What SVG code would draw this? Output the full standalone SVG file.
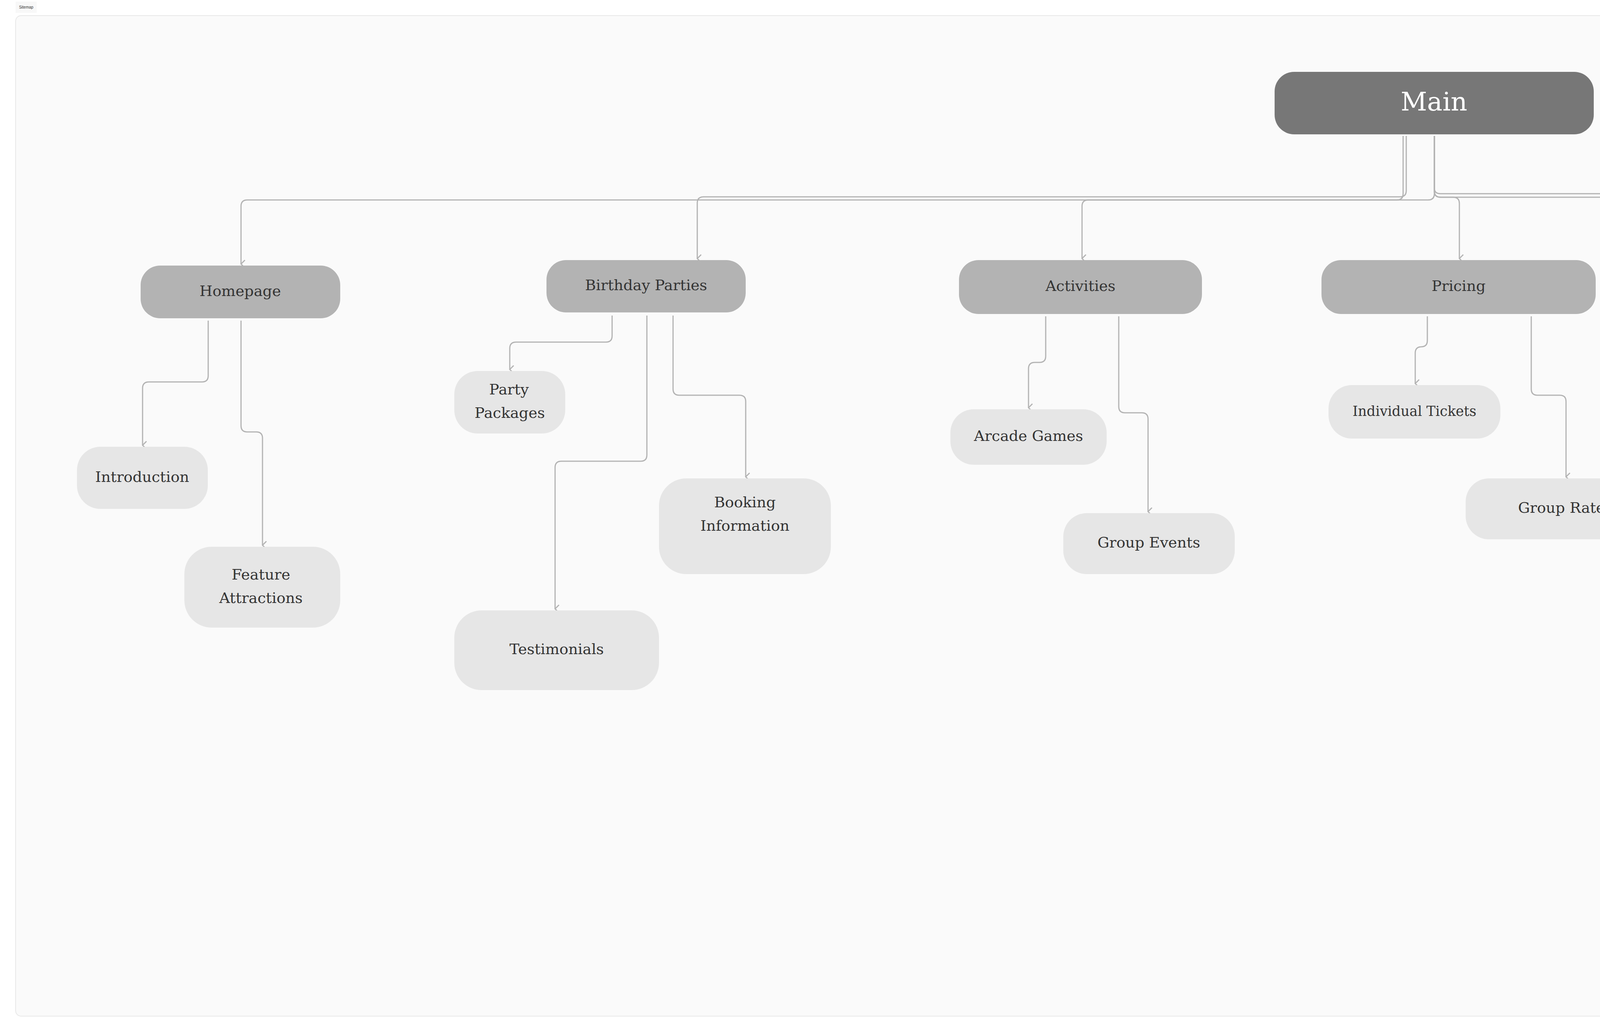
<svg xmlns="http://www.w3.org/2000/svg" width="6960" height="2640" viewBox="0 0 6960 2640">
<defs>
<marker id="ar" viewBox="0 0 24 24" refX="12" refY="22" markerWidth="24" markerHeight="24" markerUnits="userSpaceOnUse" orient="auto-start-reverse"><path d="M2,12 L12,22 L22,12" fill="none" stroke="#b3b3b3" stroke-width="3"/></marker>
<style>
.c{fill:none;stroke:#b3b3b3;stroke-width:3;stroke-linejoin:round;marker-end:url(#ar)}
.p{fill:#b3b3b3}.k{fill:#e6e6e6}
text{font-family:"DejaVu Serif","Liberation Serif",serif;fill:#333;text-anchor:middle;dominant-baseline:middle}
.t{font-size:38px}.m{font-size:66px;fill:#fff}
</style>
</defs>
<rect width="6960" height="2640" fill="#fff"/>
<rect x="40" y="4" width="54" height="29" fill="#f8f8f8"/>
<text x="67" y="19" style="font-family:'Liberation Sans',sans-serif;font-size:10px">Sitemap</text>
<rect x="40" y="40" width="6878" height="2562" rx="14" fill="#fafafa" stroke="#e8e8e8" stroke-width="2"/>
<g id="connectors">
<path class="c" d="M3592,348 V496 q0,16 -16,16 H633 q-16,0 -16,16 V676"/>
<path class="c" d="M3600,348 V488 q0,16 -16,16 H1801 q-16,0 -16,16 V662"/>
<path class="c" d="M3672,348 V496 q0,16 -16,16 H2786 q-16,0 -16,16 V662"/>
<path class="c" d="M3672,348 V490 q0,15 16,15 H3720 q16,0 16,16 V662"/>
<path class="c" d="M3672,348 V490 q0,15 16,15 H4832 q16,0 16,16 V662"/>
<path class="c" d="M3672,348 V482 q0,14 16,14 H6031 q16,0 16,16 V644"/>
<path class="c" d="M533,821 V962 q0,16 -16,16 H381 q-16,0 -16,16 V1140"/>
<path class="c" d="M617,821 V1090 q0,16 16,16 H656 q16,0 16,16 V1396"/>
<path class="c" d="M1567,808 V860 q0,16 -16,16 H1321 q-16,0 -16,16 V946"/>
<path class="c" d="M1656,808 V1165 q0,16 -16,16 H1437 q-16,0 -16,16 V1559"/>
<path class="c" d="M1723,808 V996 q0,16 16,16 H1893 q16,0 16,16 V1221"/>
<path class="c" d="M2677,810 V912 q0,16 -16,16 H2649 q-16,0 -16,16 V1044"/>
<path class="c" d="M2864,810 V1041 q0,16 16,16 H2923 q16,0 16,16 V1310"/>
<path class="c" d="M3654,810 V872 q0,16 -16,16 H3639 q-16,0 -16,16 V982"/>
<path class="c" d="M3920,810 V996 q0,16 16,16 H3993 q16,0 16,16 V1221"/>
<path class="c" d="M4848,806 V908 q0,16 -16,16 H4789 q-16,0 -16,16 V1044"/>
<path class="c" d="M4964,806 V1005 q0,16 16,16 H5214 q16,0 16,16 V1235"/>
<path class="c" d="M5927,790 V899 q0,16 16,16 H5942 q16,0 16,16 V1044"/>
<path class="c" d="M6047,790 V987 q0,16 16,16 H6440 q16,0 16,16 V1221"/>
</g>
<g id="main"><rect x="3263" y="184" width="817" height="160" rx="50" fill="#777"/><text class="m" x="3671" y="266">Main</text></g>
<g id="homepage"><rect class="p" x="360" y="680" width="511" height="135" rx="50"/><text class="t" x="615" y="748">Homepage</text></g>
<g id="birthday"><rect class="p" x="1399" y="666" width="510" height="134" rx="50"/><text class="t" x="1654" y="733">Birthday Parties</text></g>
<g id="activities"><rect class="p" x="2455" y="666" width="622" height="138" rx="50"/><text class="t" x="2766" y="735">Activities</text></g>
<g id="pricing"><rect class="p" x="3383" y="666" width="702" height="138" rx="50"/><text class="t" x="3734" y="735">Pricing</text></g>
<g id="about"><rect class="p" x="4587" y="666" width="523" height="134" rx="50"/><text class="t" x="4848" y="733">About Us</text></g>
<g id="contact"><rect class="p" x="5785" y="648" width="524" height="133" rx="50"/><text class="t" x="6047" y="715">Contact</text></g>
<g id="introduction"><rect class="k" x="197" y="1144" width="335" height="159" rx="60"/><text class="t" x="364" y="1224">Introduction</text></g>
<g id="feature"><rect class="k" x="472" y="1400" width="399" height="207" rx="70"/><text class="t" x="668" y="1474">Feature</text><text class="t" x="668" y="1534">Attractions</text></g>
<g id="party"><rect class="k" x="1163" y="950" width="284" height="160" rx="60"/><text class="t" x="1303" y="1000">Party</text><text class="t" x="1305" y="1060">Packages</text></g>
<g id="testimonials"><rect class="k" x="1163" y="1563" width="524" height="204" rx="70"/><text class="t" x="1425" y="1665">Testimonials</text></g>
<g id="booking"><rect class="k" x="1687" y="1225" width="440" height="245" rx="70"/><text class="t" x="1907" y="1289">Booking</text><text class="t" x="1907" y="1349">Information</text></g>
<g id="arcade"><rect class="k" x="2433" y="1048" width="400" height="142" rx="60"/><text class="t" x="2633" y="1119">Arcade Games</text></g>
<g id="groupevents"><rect class="k" x="2722" y="1314" width="439" height="156" rx="60"/><text class="t" x="2941" y="1392">Group Events</text></g>
<g id="individual"><rect class="k" x="3401" y="986" width="440" height="137" rx="60"/><text class="t" x="3621" y="1055" style="font-size:35px">Individual Tickets</text></g>
<g id="grouprates"><rect class="k" x="3752" y="1225" width="510" height="156" rx="60"/><text class="t" x="4007" y="1303">Group Rates</text></g>
<g id="history"><rect class="k" x="4511" y="1048" width="524" height="155" rx="60"/><text class="t" x="4773" y="1126">History</text></g>
<g id="mission"><rect class="k" x="4937" y="1239" width="591" height="160" rx="60"/><text class="t" x="5232" y="1319">Mission</text></g>
<g id="inquiry"><rect class="k" x="5705" y="1048" width="511" height="142" rx="60"/><text class="t" x="5960" y="1119">Inquiry Form</text></g>
<g id="faqs"><rect class="k" x="6314" y="1225" width="288" height="143" rx="60"/><text class="t" x="6458" y="1297">FAQs</text></g>
</svg>
